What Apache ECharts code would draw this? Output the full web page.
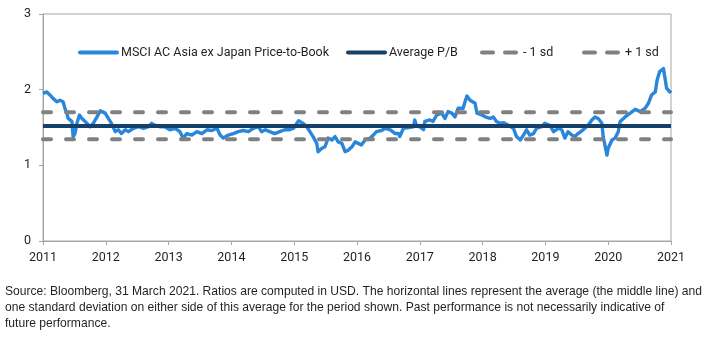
<!DOCTYPE html>
<html>
<head>
<meta charset="utf-8">
<script src="https://cdn.jsdelivr.net/npm/echarts@6/dist/echarts.min.js"></script>
<style>
html,body{margin:0;padding:0;background:#fff;}
#c{width:708px;height:339px;}
</style>
</head>
<body>
<div id="c"></div>
<script>
// Dates as decimal years
var years = [
2011.00,2011.06,2011.11,2011.16,2011.22,2011.27,2011.32,2011.35,2011.38,2011.40,
2011.46,2011.48,2011.51,2011.54,2011.58,2011.62,2011.67,2011.70,2011.75,2011.80,
2011.86,2011.91,2011.99,2012.04,2012.09,2012.15,2012.20,2012.25,2012.31,2012.36,
2012.44,2012.52,2012.60,2012.68,2012.73,2012.78,2012.86,2012.94,2013.02,2013.10,
2013.18,2013.23,2013.29,2013.37,2013.45,2013.53,2013.61,2013.69,2013.77,2013.82,
2013.87,2013.95,2014.03,2014.11,2014.19,2014.27,2014.35,2014.43,2014.48,2014.54,
2014.61,2014.69,2014.77,2014.85,2014.93,2014.96,2014.99,2015.07,2015.14,2015.20,
2015.25,2015.30,2015.36,2015.38,2015.44,2015.49,2015.54,2015.60,2015.65,2015.70,
2015.76,2015.81,2015.86,2015.92,2015.97,2016.02,2016.07,2016.13,2016.21,2016.26,
2016.31,2016.39,2016.45,2016.53,2016.61,2016.66,2016.68,2016.74,2016.82,2016.90,
2016.92,2016.95,2017.00,2017.06,2017.08,2017.16,2017.21,2017.27,2017.35,2017.40,
2017.45,2017.51,2017.56,2017.61,2017.69,2017.72,2017.75,2017.80,2017.88,2017.91,
2017.99,2018.04,2018.12,2018.17,2018.22,2018.28,2018.33,2018.41,2018.49,2018.54,
2018.60,2018.65,2018.70,2018.75,2018.81,2018.86,2018.94,2018.99,2019.07,2019.13,
2019.21,2019.26,2019.31,2019.36,2019.42,2019.47,2019.52,2019.60,2019.68,2019.74,
2019.79,2019.84,2019.90,2019.92,2019.98,2020.00,2020.06,2020.11,2020.16,2020.19,
2020.27,2020.35,2020.43,2020.51,2020.59,2020.64,2020.69,2020.75,2020.78,2020.82,
2020.88,2020.93,2020.98,2021.00
];
var priceToBook = [
1.95,1.97,1.93,1.885,1.84,1.86,1.84,1.75,1.69,1.62,
1.58,1.38,1.42,1.555,1.665,1.62,1.58,1.60,1.51,1.555,
1.64,1.72,1.69,1.62,1.555,1.445,1.47,1.42,1.47,1.445,
1.49,1.51,1.49,1.51,1.555,1.53,1.51,1.51,1.47,1.49,
1.445,1.36,1.42,1.40,1.445,1.42,1.47,1.46,1.49,1.40,
1.36,1.40,1.42,1.445,1.46,1.445,1.49,1.51,1.445,1.47,
1.445,1.42,1.445,1.47,1.47,1.49,1.49,1.59,1.555,1.51,
1.445,1.38,1.29,1.18,1.225,1.245,1.36,1.335,1.38,1.31,
1.29,1.18,1.20,1.245,1.31,1.29,1.27,1.335,1.36,1.40,
1.445,1.46,1.49,1.47,1.42,1.42,1.38,1.49,1.50,1.51,
1.60,1.52,1.51,1.47,1.58,1.60,1.58,1.665,1.69,1.62,
1.71,1.69,1.64,1.755,1.755,1.84,1.915,1.86,1.82,1.69,
1.665,1.64,1.62,1.64,1.58,1.555,1.565,1.53,1.49,1.38,
1.335,1.40,1.47,1.40,1.42,1.49,1.51,1.555,1.53,1.445,
1.49,1.47,1.36,1.445,1.40,1.38,1.42,1.47,1.53,1.60,
1.64,1.62,1.555,1.38,1.135,1.225,1.335,1.36,1.445,1.58,
1.64,1.69,1.74,1.71,1.755,1.82,1.93,1.97,2.13,2.24,
2.28,2.02,1.97,1.99
];
var averagePB = 1.52;
var minusOneSd = 1.345;
var plusOneSd = 1.70;
var xRange = [2011, 2021];
var seriesNames = ['MSCI AC Asia ex Japan Price-to-Book', 'Average P/B', '- 1 sd', '+ 1 sd'];
var footnote = [
  'Source: Bloomberg, 31 March 2021. Ratios are computed in USD. The horizontal lines represent the average (the middle line) and',
  'one standard deviation on either side of this average for the period shown. Past performance is not necessarily indicative of',
  'future performance.'
];

var FONT = '"Liberation Sans", Arial, sans-serif';
var LFONT = 'Roboto, "Liberation Sans", sans-serif';
var TXT = '#231F20';
var BLUE = '#2A86DA';
var NAVY = '#15406A';
var GREY = '#808080';
var FRAME = '#A6A6A6';

var mainData = years.map(function (y, i) { return [y, priceToBook[i]]; });
function flat(v) { return [[xRange[0], v], [xRange[1], v]]; }

// horizontal squeeze so the footnote matches the condensed source typeface
var ctx = document.createElement('canvas').getContext('2d');
ctx.font = '13.5px "Liberation Sans"';
var footScale = 697 / ctx.measureText(footnote[0]).width;

function legendOf(i, left, dashed) {
  return {
    left: left, top: 41, itemWidth: 37, itemHeight: 12, itemGap: 0,
    textStyle: { fontFamily: LFONT, fontSize: 12.5, color: TXT, padding: [0, 0, 0, -1] },
    itemStyle: { opacity: 0 },
    lineStyle: dashed ? { width: 4, type: [11, 12], cap: 'round' } : { width: 4, cap: 'round' },
    data: [seriesNames[i]]
  };
}

var chart = echarts.init(document.getElementById('c'), null, { renderer: 'canvas' });
chart.setOption({
  animation: false,
  backgroundColor: '#fff',
  grid: { left: 43, right: 37, top: 14, bottom: 98, show: true, borderColor: FRAME, borderWidth: 1 },
  legend: [
    legendOf(0, 73, false),
    legendOf(1, 341, false),
    legendOf(2, 475, true),
    legendOf(3, 577, true)
  ],
  xAxis: {
    type: 'value', min: xRange[0], max: xRange[1], interval: 1,
    axisLine: { lineStyle: { color: FRAME, width: 1 } },
    axisTick: { show: true, length: 4, lineStyle: { color: FRAME } },
    splitLine: { show: false },
    axisLabel: { formatter: function (v) { return String(v); }, fontFamily: LFONT, fontSize: 12.5, color: TXT, margin: 10 }
  },
  yAxis: {
    type: 'value', min: 0, max: 3, interval: 1,
    axisLine: { show: true, lineStyle: { color: FRAME, width: 1 } },
    axisTick: { show: true, length: 4, lineStyle: { color: FRAME } },
    splitLine: { show: false },
    axisLabel: { fontFamily: LFONT, fontSize: 12.5, color: TXT, margin: 12 }
  },
  series: [
    { name: seriesNames[0], type: 'line', data: mainData, symbol: 'none', z: 2,
      lineStyle: { color: BLUE, width: 3.4, join: 'round' }, itemStyle: { color: BLUE } },
    { name: seriesNames[2], type: 'line', data: flat(minusOneSd), symbol: 'none', z: 3,
      lineStyle: { color: GREY, width: 4, type: [8, 15], cap: 'round' }, itemStyle: { color: GREY } },
    { name: seriesNames[3], type: 'line', data: flat(plusOneSd), symbol: 'none', z: 3,
      lineStyle: { color: GREY, width: 4, type: [8, 15], cap: 'round' }, itemStyle: { color: GREY } },
    { name: seriesNames[1], type: 'line', data: flat(averagePB), symbol: 'none', z: 4,
      lineStyle: { color: NAVY, width: 4 }, itemStyle: { color: NAVY } }
  ],
  graphic: footnote.map(function (t, i) {
    return { type: 'text', x: 5, y: 291 + i * 16, scaleX: footScale,
      style: { text: t, x: 0, y: 0, fontFamily: FONT, fontSize: 13.5, fill: TXT, verticalAlign: 'middle', align: 'left' } };
  })
});
</script>
</body>
</html>
